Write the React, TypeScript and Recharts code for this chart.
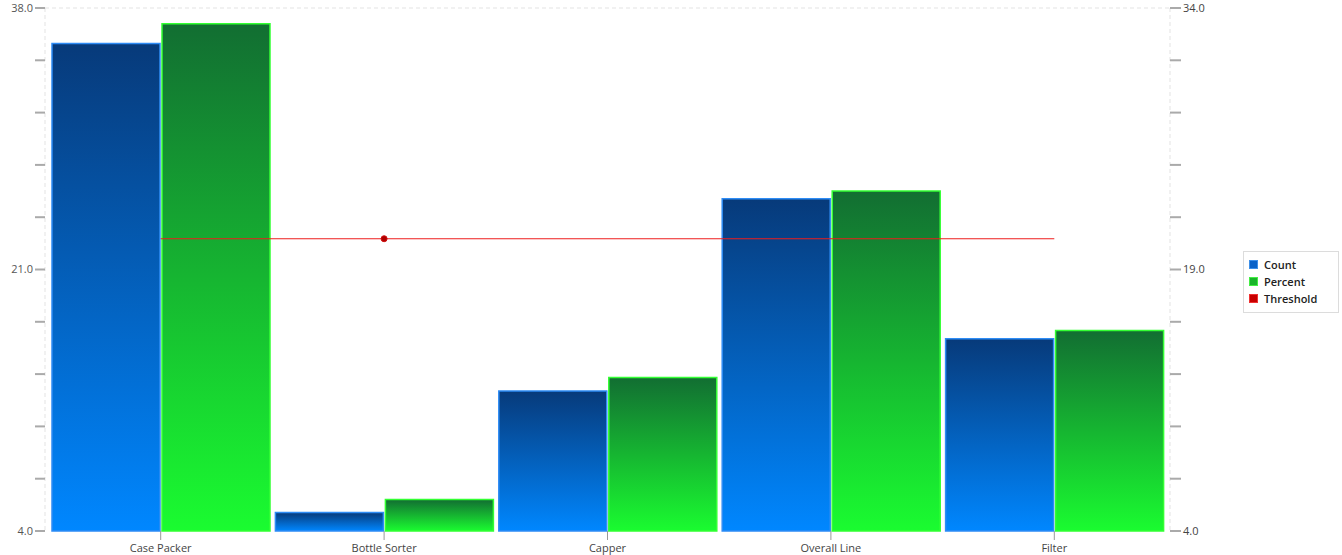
import React from 'react';
import { ComposedChart, Bar, Line, XAxis, YAxis, CartesianGrid, Legend, ReferenceLine } from 'recharts';

const categories = ['Case Packer', 'Bottle Sorter', 'Capper', 'Overall Line', 'Filter'];
const countValues = [35.7, 5.2, 13.1, 25.6, 16.5];
const percentValues = [33.1, 5.8, 12.8, 23.5, 15.5];
const thresholdValues = [23, 23, 23, 23, 23];
const leftTicks = [4, 7.4, 10.8, 14.2, 17.6, 21, 24.4, 27.8, 31.2, 34.6, 38];
const rightTicks = [4, 7, 10, 13, 16, 19, 22, 25, 28, 31, 34];
const leftLabeled = [4, 21, 38];
const rightLabeled = [4, 19, 34];

const data = categories.map((name, i) => ({
  name,
  Count: countValues[i],
  Percent: percentValues[i],
  Threshold: thresholdValues[i],
}));

const FONT = '"Segoe UI", "Open Sans", "Noto Sans", sans-serif';

const legendItems = [
  { label: 'Count', color: '#0a62c8', border: '#3d8fe8' },
  { label: 'Percent', color: '#19b52a', border: '#44ee44' },
  { label: 'Threshold', color: '#c80000', border: '#ee3333' },
];

const LegendBox = () => (
  <div
    style={{
      border: '1px solid #dcdcdc',
      background: '#fff',
      width: 89,
      padding: '4px 0 5px 5px',
      fontFamily: FONT,
      fontSize: 11,
      fontWeight: 600,
      color: '#222',
      textAlign: 'left',
    }}
  >
    {legendItems.map((it) => (
      <div key={it.label} style={{ display: 'flex', alignItems: 'center', height: 17 }}>
        <span
          style={{
            display: 'inline-block',
            width: 7,
            height: 7,
            background: it.color,
            border: `1px solid ${it.border}`,
            marginRight: 6,
          }}
        />
        <span>{it.label}</span>
      </div>
    ))}
  </div>
);

const ThresholdDot = (props: any) => {
  const { cx, cy, index } = props;
  if (index !== 1) return <g key={`d${index}`} />;
  return <circle key={`d${index}`} cx={cx} cy={cy} r={3} fill="#b00000" stroke="#d01010" strokeWidth={1} />;
};

export default function App() {
  return (
    <div style={{ position: 'absolute', left: 0, top: 0, width: 1342, height: 555, background: '#fff' }}>
      <ComposedChart
        width={1342}
        height={555}
        data={data}
        margin={{ top: 8, right: 132, bottom: 0, left: 0 }}
        barCategoryGap={3}
        barGap={2}
      >
        <defs>
          <linearGradient id="gBlue" x1="0" y1="0" x2="0" y2="1">
            <stop offset="0%" stopColor="#073a7a" />
            <stop offset="100%" stopColor="#0087ff" />
          </linearGradient>
          <linearGradient id="gGreen" x1="0" y1="0" x2="0" y2="1">
            <stop offset="0%" stopColor="#126e32" />
            <stop offset="100%" stopColor="#1afc30" />
          </linearGradient>
        </defs>
        <CartesianGrid
          vertical={false}
          stroke="#dddddd"
          horizontalValues={leftTicks.filter((t) => t !== 38)}
        />
        <ReferenceLine yAxisId="left" y={38} stroke="#e3e3e3" strokeDasharray="4 3" />
        <XAxis
          dataKey="name"
          padding={{ left: 4, right: 4 }}
          axisLine={false}
          tickLine={{ stroke: '#999', strokeWidth: 1 }}
          tickSize={9}
          tickMargin={4}
          height={24}
          tick={{ fill: '#444', fontSize: 11, fontFamily: FONT }}
          interval={0}
        />
        <YAxis
          yAxisId="left"
          orientation="left"
          domain={[4, 38]}
          ticks={leftTicks}
          width={45}
          interval={0}
          axisLine={{ stroke: '#e3e3e3', strokeDasharray: '4 3' }}
          tickLine={{ stroke: '#aaa', strokeWidth: 2 }}
          tickSize={10}
          tickFormatter={(v: number) => (leftLabeled.includes(v) ? v.toFixed(1) : '')}
          tick={{ fill: '#555', fontSize: 11, fontFamily: FONT }}
        />
        <YAxis
          yAxisId="right"
          orientation="right"
          domain={[4, 34]}
          ticks={rightTicks}
          width={40}
          interval={0}
          axisLine={{ stroke: '#e3e3e3', strokeDasharray: '4 3' }}
          tickLine={{ stroke: '#aaa', strokeWidth: 2 }}
          tickSize={11}
          tickFormatter={(v: number) => (rightLabeled.includes(v) ? v.toFixed(1) : '')}
          tick={{ fill: '#444', fontSize: 11, fontFamily: FONT }}
        />
        <Legend
          content={<LegendBox />}
          layout="horizontal"
          verticalAlign="middle"
          align="center"
          wrapperStyle={{ position: 'absolute', left: 1243, top: 251, width: 95 }}
        />
        <Bar
          yAxisId="left"
          dataKey="Count"
          fill="url(#gBlue)"
          stroke="#2e8cf5"
          strokeWidth={1.5}
          isAnimationActive={false}
        />
        <Bar
          yAxisId="right"
          dataKey="Percent"
          fill="url(#gGreen)"
          stroke="#33ff33"
          strokeWidth={1.5}
          isAnimationActive={false}
        />
        <Line
          yAxisId="left"
          dataKey="Threshold"
          stroke="#ee1c1c"
          strokeWidth={1.2}
          dot={ThresholdDot}
          activeDot={false}
          isAnimationActive={false}
        />
      </ComposedChart>
    </div>
  );
}
